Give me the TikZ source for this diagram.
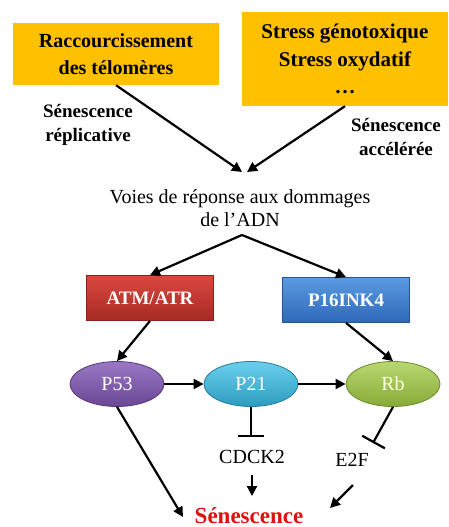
\documentclass[tikz,border=0pt]{standalone}
\usepackage{fontspec}
\setmainfont{Liberation Serif}
\usetikzlibrary{arrows.meta,shapes.geometric,calc}
\definecolor{ybox}{HTML}{FFC000}
\definecolor{redtop}{HTML}{D9483F}
\definecolor{redbot}{HTML}{A82A24}
\definecolor{bluetop}{HTML}{5A9BE2}
\definecolor{bluebot}{HTML}{2F68B8}
\definecolor{purtop}{HTML}{9A78C4}
\definecolor{purbot}{HTML}{6A4794}
\definecolor{cyantop}{HTML}{6CD0EC}
\definecolor{cyanbot}{HTML}{2C9CC0}
\definecolor{grntop}{HTML}{BAD870}
\definecolor{grnbot}{HTML}{86AA38}
\definecolor{senred}{HTML}{E01010}
\tikzset{
  ybx/.style={rectangle, fill=ybox, draw=none, align=center, font=\rmfamily\fontsize{20}{27}\selectfont\bfseries},
  lab/.style={align=center, font=\rmfamily\fontsize{19}{24}\selectfont\bfseries},
  txt/.style={align=center, font=\rmfamily\fontsize{20}{23}\selectfont},
  gbox/.style={rectangle, minimum width=127pt, minimum height=45pt, text=white, font=\rmfamily\fontsize{19}{22}\selectfont\bfseries, line width=0.8pt},
  oval/.style={ellipse, minimum width=94pt, minimum height=45pt, text=white, font=\rmfamily\fontsize{20}{22}\selectfont, line width=0.8pt},
  arr/.style={line width=2.2pt, -{Triangle[length=10pt,width=10pt]}},
  inh/.style={line width=2.2pt, -{Bar[width=26pt,line width=2.2pt]}}
}
\begin{document}
\begin{tikzpicture}[x=1pt,y=-1pt]
\useasboundingbox[fill=white] (0,0) rectangle (449,527);
% top boxes
\node[ybx, minimum width=206pt, minimum height=62pt] (top1) at (116,54) {Raccourcissement\\des télomères};
\node[ybx, minimum width=206pt, minimum height=94pt, font=\rmfamily\fontsize{21}{27.5}\selectfont\bfseries] (top2) at (345,59) {Stress génotoxique\\Stress oxydatif\\\dots};
\node[lab] (labL) at (88,125) {Sénescence\\réplicative};
\node[lab] (labR) at (396,137) {Sénescence\\accélérée};
\node[txt] (voies) at (240,208) {Voies de réponse aux dommages\\de l’ADN};
\coordinate (in1) at (242,172);
\coordinate (in2) at (247,172);
\coordinate (out) at (242,235);
\draw[arr] (top1.south) -- (in1);
\draw[arr] (top2.south) -- (in2);
% boxes
\node[gbox, top color=redtop, bottom color=redbot, draw=redbot!80!black] (atm) at (150,298) {ATM/ATR};
\node[gbox, top color=bluetop, bottom color=bluebot, draw=bluebot!80!black] (p16) at (346,300) {P16INK4};
\draw[arr] (out) -- (atm.north);
\draw[arr] (out) -- (p16.north);
% ovals
\node[oval, top color=purtop, bottom color=purbot, draw=purbot!80!black] (p53) at (117,384) {P53};
\node[oval, top color=cyantop, bottom color=cyanbot, draw=cyanbot!80!black] (p21) at (251,384) {P21};
\node[oval, top color=grntop, bottom color=grnbot, draw=grnbot!80!black, text=white!90!yellow] (rb) at (393,384) {Rb};
\draw[arr] (atm.south) -- (p53.north);
\draw[arr] (p16.south) -- (rb.north);
\draw[arr] (p53.east) -- (p21.west);
\draw[arr] (p21.east) -- (rb.west);
% lower
\node[txt] (cdck2) at (252,457) {CDCK2};
\node[txt] (e2f) at (352,460) {E2F};
\node[font=\rmfamily\fontsize{23}{25}\selectfont\bfseries, text=senred, anchor=base, inner sep=1pt] (sen) at (249,523) {Sénescence};
\coordinate (bar1) at (251,437);
\coordinate (bar2) at (373,443);
\draw[inh] (p21.south) -- (bar1);
\draw[inh] (rb.south) -- (bar2);
\coordinate (c1) at (252,475);
\coordinate (c2) at (252,496);
\coordinate (e1) at (353,485);
\coordinate (e2) at (330,508);
\coordinate (s1) at (183,517);
\draw[arr] (c1) -- (c2);
\draw[arr] (e1) -- (e2);
\draw[arr] (p53.south) -- (s1);
\end{tikzpicture}
\end{document}
